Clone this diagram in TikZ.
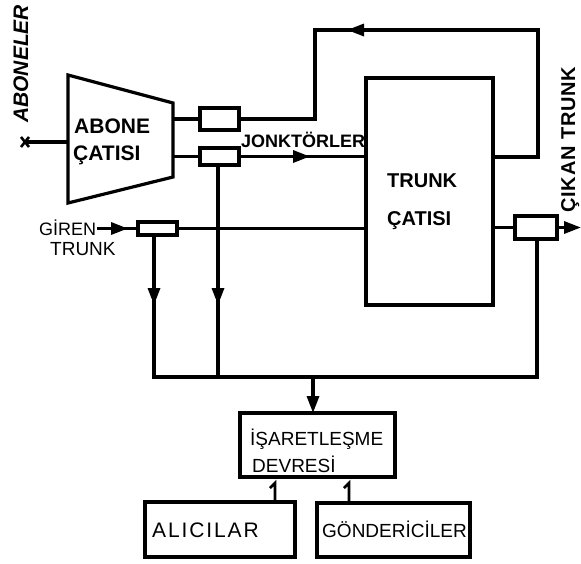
\documentclass[tikz,border=0pt]{standalone}
\usepackage{fontspec}
\setmainfont{Liberation Sans}
\usetikzlibrary{arrows.meta,decorations.markings}
\tikzset{
 wire/.style={line width=3.2pt, line join=miter},
 sbox/.style={draw, line width=3.2pt, inner sep=0pt, outer sep=0pt},
 tipA/.style={-{Triangle[length=17pt,width=12pt]}},
 midarrow/.style={postaction={decorate}, decoration={markings, mark=at position #1 with {\arrow{Triangle[length=17pt,width=12pt]}}}},
 lab/.style={inner sep=0pt, anchor=base west},
 onestyle/.style={line width=2.8pt},
}
\begin{document}
\begin{tikzpicture}[x=1pt,y=-1pt]
\useasboundingbox (0,0) rectangle (581,563);
% trapezoid (ABONE CATISI)
\coordinate (tA) at (68,75);
\coordinate (tB) at (173,103);
\coordinate (tC) at (173,177);
\coordinate (tD) at (68,203);
\draw[wire] (tA) -- (tB) -- (tC) -- (tD) -- cycle;
% boxes
\node[sbox, minimum width=39pt, minimum height=22pt] (b1) at (219.5,119) {};
\node[sbox, minimum width=39pt, minimum height=17pt] (b2) at (219.5,156.5) {};
\node[sbox, minimum width=39pt, minimum height=13pt] (b3) at (157.5,228.5) {};
\node[sbox, minimum width=42pt, minimum height=23pt] (b4) at (536,227.5) {};
\node[sbox, minimum width=127pt, minimum height=227pt] (tr) at (429.5,191.5) {};
\node[sbox, minimum width=155pt, minimum height=64pt] (isa) at (317.5,445) {};
\node[sbox, minimum width=150pt, minimum height=55pt] (ali) at (220,529.5) {};
\node[sbox, minimum width=153pt, minimum height=54pt] (gon) at (393.5,530) {};
% coordinates
\coordinate (xm) at (25,142);
\coordinate (fr) at (538,30);
\coordinate (fl) at (315,30);
\coordinate (gin) at (97,228.5);
\coordinate (cout) at (581,227.5);
\coordinate (bl) at (154,377);
\coordinate (br) at (537,377);
\coordinate (v2) at (218,377);
\coordinate (vd) at (313,377);
\coordinate (o1) at (275,483);
\coordinate (o2) at (349,483);
% connectors
\draw[wire] (xm) -- (xm -| tA);
\draw[line width=2.6pt] (xm) +(-4,-5) -- +(4,5) (xm) +(-4,5) -- +(4,-5);
\draw[wire] (tB |- b1.west) -- (b1.west);
\draw[wire] (tB |- b2.west) -- (b2.west);
\draw[wire, midarrow=363pt] (tr.east |- 0,157) -- (fr |- 0,157) -- (fr) -- (fl) -- (fl |- b1.east) -- (b1.east);
\draw[wire, midarrow=71pt] (b2.east) -- (b2.east -| tr.west);
\draw[wire, midarrow=31pt] (gin) -- (b3.west);
\draw[wire] (b3.east) -- (b3.east -| tr.west);
\draw[wire] (tr.east |- b4.west) -- (b4.west);
\draw[wire, tipA] (b4.east) -- (cout);
\draw[wire, midarrow=70pt] (bl |- b3.south) -- (bl) -- (br) -- (br |- b4.south);
\draw[wire, midarrow=140pt] (v2 |- b2.south) -- (v2);
\draw[wire, tipA] (vd) -- (vd |- isa.north);
\draw[onestyle] (ali.north -| o1) -- (o1) -- ++(-5,5);
\draw[onestyle] (gon.north -| o2) -- (o2) -- ++(-5,5);
% labels
\node[lab, rotate=90] at (28,123) {\fontsize{21}{21}\selectfont\bfseries\itshape ABONELER};
\node[lab] at (74,133) {\fontsize{21}{21}\selectfont\bfseries ABONE};
\node[lab] at (73,160) {\fontsize{21}{21}\selectfont\bfseries ÇATISI};
\node[lab] at (241,147) {\fontsize{18}{18}\selectfont\bfseries JONKTÖRLER};
\node[lab] at (387,187) {\fontsize{20}{20}\selectfont\bfseries TRUNK};
\node[lab] at (387,225) {\fontsize{20}{20}\selectfont\bfseries ÇATISI};
\node[lab, rotate=90] at (575,213) {\fontsize{20}{20}\selectfont\bfseries\addfontfeature{LetterSpace=4}ÇIKAN TRUNK};
\node[lab] at (39,235) {\fontsize{18}{18}\selectfont GİREN};
\node[lab] at (50,255) {\fontsize{19}{19}\selectfont TRUNK};
\node[lab] at (250,445) {\fontsize{19}{19}\selectfont İŞARETLEŞME};
\node[lab] at (252,472) {\fontsize{19}{19}\selectfont DEVRESİ};
\node[lab] at (152,537) {\fontsize{21}{21}\selectfont\addfontfeature{LetterSpace=9}ALICILAR};
\node[lab] at (322,537) {\fontsize{19}{19}\selectfont GÖNDERİCİLER};
\end{tikzpicture}
\end{document}
